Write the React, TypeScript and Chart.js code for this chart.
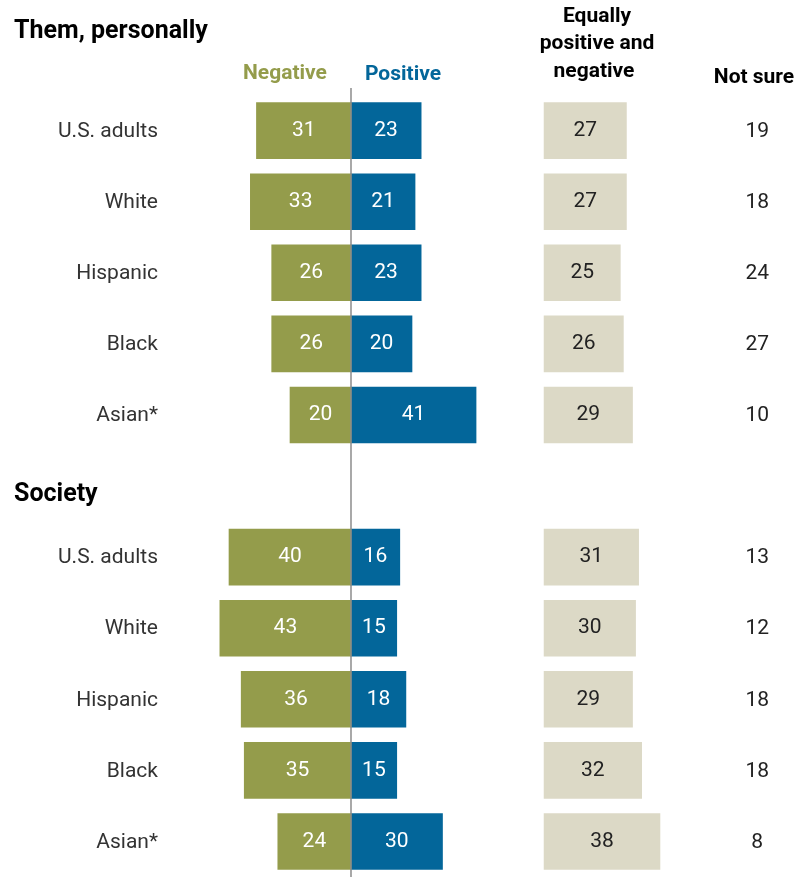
import React, { useEffect, useRef } from "react";
import { Chart, registerables } from "chart.js";

Chart.register(...registerables);

const rowLabels = [
  "", "U.S. adults", "White", "Hispanic", "Black", "Asian*",
  "", "U.S. adults", "White", "Hispanic", "Black", "Asian*",
];
const sectionTitles = ["Them, personally", "Society"];
const negative = [null, 31, 33, 26, 26, 20, null, 40, 43, 36, 35, 24];
const positive = [null, 23, 21, 23, 20, 41, null, 16, 15, 18, 15, 30];
const equally = [null, 27, 27, 25, 26, 29, null, 31, 30, 29, 32, 38];
const notSure = [null, 19, 18, 24, 27, 10, null, 13, 12, 18, 18, 8];

const GREEN = "#949c4b";
const BLUE = "#03669a";
const BEIGE = "#dcd9c6";

const X_MIN = -115.08;
const X_MAX = 148.85;
const EQ_OFFSET = 63.3;
const NOT_SURE_POS = 133.2;
const FONT = "Roboto, 'Liberation Sans', sans-serif";

const labelsPlugin = {
  id: "customLabels",
  afterDatasetsDraw(chart: any) {
    const ctx = chart.ctx;
    const xs = chart.scales.x;
    const ys = chart.scales.y;
    const zeroX = xs.getPixelForValue(0);
    ctx.save();
    // center line
    ctx.strokeStyle = "#8c8c8c";
    ctx.lineWidth = 1.5;
    ctx.beginPath();
    ctx.moveTo(zeroX, 88);
    ctx.lineTo(zeroX, chart.height);
    ctx.stroke();

    ctx.textBaseline = "middle";
    // row labels
    ctx.font = `21px ${FONT}`;
    ctx.fillStyle = "#333333";
    ctx.textAlign = "right";
    rowLabels.forEach((l, i) => {
      if (l) ctx.fillText(l, 158, ys.getPixelForValue(i) + 1);
    });

    // section titles
    ctx.font = `bold 25px ${FONT}`;
    ctx.fillStyle = "#000000";
    ctx.textAlign = "left";
    ctx.fillText(sectionTitles[0], 14, 32);
    ctx.fillText(sectionTitles[1], 14, 495);

    // column headers
    ctx.font = `bold 21px ${FONT}`;
    ctx.textAlign = "center";
    ctx.fillStyle = GREEN;
    ctx.fillText("Negative", 285, 74);
    ctx.fillStyle = BLUE;
    ctx.fillText("Positive", 403, 75);
    ctx.fillStyle = "#000000";
    ctx.fillText("Equally", 597, 17);
    ctx.fillText("positive and", 597, 44);
    ctx.fillText("negative", 594, 72);
    ctx.fillText("Not sure", 754, 78);

    // values inside bars
    ctx.font = `21px ${FONT}`;
    const metas = chart.data.datasets.map((_: any, d: number) => chart.getDatasetMeta(d));
    const colors = ["#ffffff", "#ffffff", "#222222"];
    metas.forEach((meta: any, d: number) => {
      const src = [negative, positive, equally][d];
      meta.data.forEach((el: any, i: number) => {
        const v = src[i];
        if (v == null) return;
        const cx = (el.x + el.base) / 2;
        ctx.fillStyle = colors[d];
        ctx.fillText(String(v), cx, el.y);
      });
    });

    // not sure column
    ctx.fillStyle = "#222222";
    const nx = xs.getPixelForValue(NOT_SURE_POS);
    notSure.forEach((v, i) => {
      if (v == null) return;
      ctx.fillText(String(v), nx, ys.getPixelForValue(i) + 1);
    });
    ctx.restore();
  },
};

export default function App() {
  const ref = useRef<HTMLCanvasElement | null>(null);
  useEffect(() => {
    if (!ref.current) return;
    const chart = new Chart(ref.current, {
      type: "bar",
      data: {
        labels: rowLabels.map((l, i) => `${i}:${l}`),
        datasets: [
          {
            label: "Negative",
            data: negative.map((v) => (v == null ? null : [-v, 0])) as any,
            backgroundColor: GREEN,
            grouped: false,
            barThickness: 56,
          } as any,
          {
            label: "Positive",
            data: positive.map((v) => (v == null ? null : [0, v])) as any,
            backgroundColor: BLUE,
            grouped: false,
            barThickness: 56,
          },
          {
            label: "Equally positive and negative",
            data: equally.map((v) => (v == null ? null : [EQ_OFFSET, EQ_OFFSET + v])) as any,
            backgroundColor: BEIGE,
            grouped: false,
            barThickness: 56,
          },
        ],
      },
      options: {
        indexAxis: "y",
        responsive: false,
        animation: false,
        devicePixelRatio: 1,
        layout: { padding: { top: 24, bottom: 0, left: 0, right: 0 } },
        plugins: {
          legend: { display: false },
          tooltip: { enabled: false },
        },
        scales: {
          x: { type: "linear", min: X_MIN, max: X_MAX, display: false },
          y: { type: "category", display: false, offset: true },
        },
      },
      plugins: [labelsPlugin],
    });
    return () => chart.destroy();
  }, []);
  return (
    <div style={{ position: "absolute", left: 0, top: 0, width: 805, height: 877 }}>
      <canvas ref={ref} width={805} height={877} />
    </div>
  );
}
